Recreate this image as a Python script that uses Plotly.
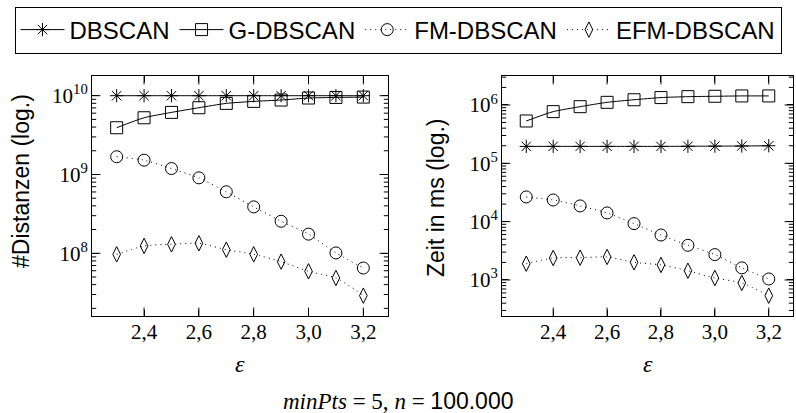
import math
import plotly.graph_objects as go

eps = [2.3, 2.4, 2.5, 2.6, 2.7, 2.8, 2.9, 3.0, 3.1, 3.2]
x_ticks = [2.4, 2.6, 2.8, 3.0, 3.2]
x_ticklabels = ["2,4", "2,6", "2,8", "3,0", "3,2"]

# Distances (left)
dist_dbscan = [1.0e10] * 10
dist_gdbscan = [3.92e9, 5.25e9, 6.14e9, 7.04e9, 7.99e9, 8.47e9, 8.81e9, 9.34e9, 9.5e9, 9.6e9]
dist_fm = [1.68e9, 1.52e9, 1.19e9, 9.07e8, 6.03e8, 3.88e8, 2.55e8, 1.75e8, 1.01e8, 6.5e7]
dist_efm = [9.7e7, 1.24e8, 1.30e8, 1.34e8, 1.11e8, 9.7e7, 7.84e7, 5.9e7, 4.86e7, 2.9e7]

# Time in ms (right)
time_dbscan = [1.95e5, 1.95e5, 1.95e5, 1.95e5, 1.95e5, 1.95e5, 1.96e5, 1.97e5, 1.98e5, 2.0e5]
time_gdbscan = [5.32e5, 7.69e5, 9.36e5, 1.11e6, 1.23e6, 1.34e6, 1.39e6, 1.41e6, 1.43e6, 1.43e6]
time_fm = [2.65e4, 2.35e4, 1.86e4, 1.41e4, 9.25e3, 5.9e3, 3.93e3, 2.72e3, 1.61e3, 1.04e3]
time_efm = [1.9e3, 2.38e3, 2.41e3, 2.48e3, 2.01e3, 1.81e3, 1.44e3, 1.08e3, 889, 538]

left_ticks = [1e8, 1e9, 1e10]
left_ticklabels = ["10<sup>8</sup>", "10<sup>9</sup>", "10<sup>10</sup>"]
right_ticks = [1e3, 1e4, 1e5, 1e6]
right_ticklabels = ["10<sup>3</sup>", "10<sup>4</sup>", "10<sup>5</sup>", "10<sup>6</sup>"]

names = ["DBSCAN", "G-DBSCAN", "FM-DBSCAN", "EFM-DBSCAN"]
symbols = ["asterisk-open", "square-open", "circle-open", "diamond-tall-open"]
msizes = [11, 12, 12, 11]
dashes = ["solid", "solid", "1px,4px", "1px,4px"]

W, H = 796, 413
def px(x):
    return x / W
def py(y):
    return 1 - y / H

serif = "Liberation Serif"
sans = "Liberation Sans"

fig = go.Figure()
left = [dist_dbscan, dist_gdbscan, dist_fm, dist_efm]
right = [time_dbscan, time_gdbscan, time_fm, time_efm]
for i in range(4):
    for j, (data, xa, ya) in enumerate([(left[i], "x", "y"), (right[i], "x2", "y2")]):
        fig.add_trace(go.Scatter(
            x=eps, y=data, xaxis=xa, yaxis=ya, name=names[i],
            mode="lines+markers", showlegend=(j == 0),
            line=dict(color="black", width=1, dash=dashes[i], shape="spline", smoothing=0.6),
            marker=dict(symbol=symbols[i], size=msizes[i], color="black",
                        line=dict(color="black", width=1)),
        ))

def minor_vals(lo, hi):
    vals = []
    for e in range(lo, hi + 1):
        for m in range(2, 10):
            vals.append(m * 10 ** e)
    return vals

x_range = [2.21, 3.29]
dL = [px(92), px(388)]
dR = [px(502), px(793)]
dY = [py(316), py(76)]

panels = [
    dict(x="x", y="y", rng=[7.204, 10.25], tv=left_ticks, tt=left_ticklabels,
         lo=7, hi=9, dom=dL),
    dict(x="x2", y="y2", rng=[2.382, 6.497], tv=right_ticks, tt=right_ticklabels,
         lo=2, hi=6, dom=dR),
]

def axkey(prefix, name):
    return prefix + ("" if name in ("x", "y") else name[1:])

def tickmarks(xs, ys, xa, ya, symbol, size):
    # half of each centred line marker is clipped by the plot edge -> inward tick
    fig.add_trace(go.Scatter(
        x=xs, y=ys, xaxis=xa, yaxis=ya, mode="markers", showlegend=False,
        hoverinfo="skip", cliponaxis=True,
        marker=dict(symbol=symbol, size=size, color="black",
                    line=dict(color="black", width=1))))

layout_axes = {}
for p in panels:
    layout_axes[axkey("xaxis", p["x"])] = dict(
        type="linear", range=x_range, domain=p["dom"], anchor=p["y"],
        tickvals=x_ticks, ticktext=x_ticklabels, ticks="inside", ticklen=6,
        tickcolor="black", tickwidth=1,
        showline=True, linecolor="black", linewidth=1, mirror="ticks",
        tickfont=dict(family=serif, size=21, color="black"), ticklabelstandoff=-3,
        showgrid=False, zeroline=False)
    layout_axes[axkey("yaxis", p["y"])] = dict(
        type="log", range=p["rng"], domain=dY, anchor=p["x"],
        tickvals=p["tv"], ticktext=p["tt"], ticks="inside", ticklen=6,
        tickcolor="black", tickwidth=1,
        showline=True, linecolor="black", linewidth=1, mirror="ticks",
        tickfont=dict(family=serif, size=21, color="black"), ticklabelstandoff=-1,
        showgrid=False, zeroline=False)

    y_lo, y_hi = 10 ** p["rng"][0], 10 ** p["rng"][1]
    minors = [v for v in minor_vals(p["lo"], p["hi"])
              if p["rng"][0] < math.log10(v) < p["rng"][1]]
    for xe in x_range:
        tickmarks([xe] * len(p["tv"]), p["tv"], p["x"], p["y"], "line-ew", 12)
        tickmarks([xe] * len(minors), minors, p["x"], p["y"], "line-ew", 6)
    for ye in (y_lo, y_hi):
        tickmarks(x_ticks, [ye] * len(x_ticks), p["x"], p["y"], "line-ns", 12)

fig.update_layout(
    width=W, height=H, margin=dict(l=0, r=0, t=0, b=0),
    paper_bgcolor="white", plot_bgcolor="white",
    legend=dict(orientation="h", x=0.5, xanchor="center", y=py(30), yanchor="middle",
                bordercolor="black", borderwidth=1, bgcolor="white",
                font=dict(family=sans, size=24, color="black"),
                itemwidth=44, tracegroupgap=0),
    showlegend=True,
    **layout_axes,
)

annots = [
    dict(text="#Distanzen (log.)", x=px(21), y=py(181), textangle=-90,
         font=dict(family=sans, size=23, color="black")),
    dict(text="Zeit in ms (log.)", x=px(436), y=py(198), textangle=-90,
         font=dict(family=sans, size=23, color="black")),
    dict(text="<i>ε</i>", x=px(240), y=py(364), font=dict(family=serif, size=24, color="black")),
    dict(text="<i>ε</i>", x=px(648), y=py(364), font=dict(family=serif, size=24, color="black")),
    dict(text="<i>minPts</i> = 5, <i>n</i> = <span style='font-family:Liberation Sans'>100.000</span>",
         x=0.5, y=py(401), font=dict(family=serif, size=23, color="black")),
]
for a in annots:
    a.update(xref="paper", yref="paper", showarrow=False, xanchor="center", yanchor="middle")
    fig.add_annotation(**a)

fig.write_html("out.html", config={"displayModeBar": False},
               post_script="document.body.style.margin='0';")
